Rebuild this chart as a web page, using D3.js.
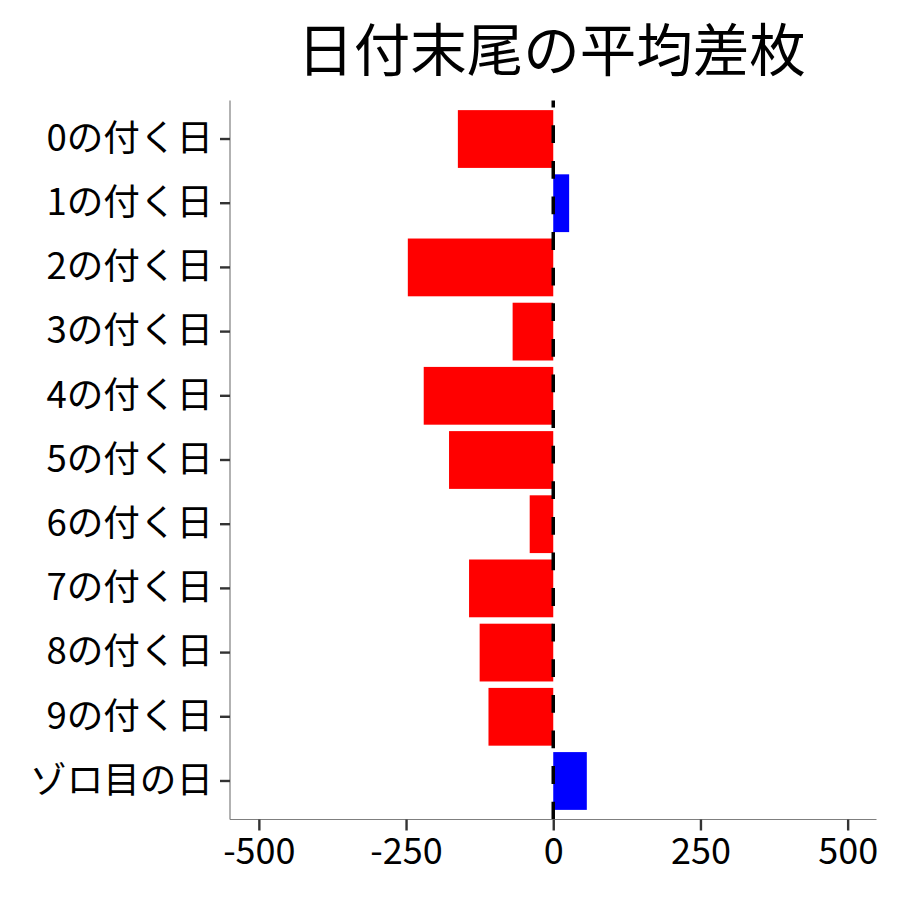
<!DOCTYPE html>
<html>
<head>
<meta charset="utf-8">
<script src="https://cdn.jsdelivr.net/npm/d3@7"></script>
<style>
  body { margin: 0; background: #fff; }
  svg { display: block; font-family: "Noto Sans CJK JP", "Noto Sans", sans-serif; }
</style>
</head>
<body>
<div id="chart"></div>
<script>
const categories = ["0の付く日","1の付く日","2の付く日","3の付く日","4の付く日","5の付く日","6の付く日","7の付く日","8の付く日","9の付く日","ゾロ目の日"];
const values = [-162, 27, -247, -69, -220, -177, -40, -143, -125, -110, 57];
const xTicks = [-500, -250, 0, 250, 500];
const title = "日付末尾の平均差枚";

const W = 900, H = 900;
const panel = { left: 230, right: 876.5, top: 100.5, bottom: 819.5 };

const svg = d3.select("#chart").append("svg").attr("width", W).attr("height", H);

const x = d3.scaleLinear().domain([-549, 549]).range([panel.left, panel.right]);
const y = d3.scaleBand().domain(categories).range([panel.top, panel.bottom]).paddingInner(0.1).paddingOuter(0.15);

// bars
svg.append("g").selectAll("rect").data(categories).join("rect")
  .attr("x", (d, i) => x(Math.min(0, values[i])))
  .attr("width", (d, i) => Math.abs(x(values[i]) - x(0)))
  .attr("y", d => y(d))
  .attr("height", y.bandwidth())
  .attr("fill", (d, i) => values[i] < 0 ? "#ff0000" : "#0000ff");

// dashed zero line (drawn from bottom up)
svg.append("line")
  .attr("x1", x(0)).attr("x2", x(0))
  .attr("y1", panel.bottom).attr("y2", panel.top)
  .attr("stroke", "#000").attr("stroke-width", 3.5)
  .attr("stroke-dasharray", "17.8,17.8");

// y axis
const yAxis = svg.append("g").attr("transform", `translate(${panel.left},0)`)
  .call(d3.axisLeft(y).tickSize(10).tickPadding(7));
yAxis.select(".domain").attr("stroke", "#7f7f7f").attr("stroke-width", 1.2);
yAxis.selectAll(".tick line").attr("stroke", "#333").attr("stroke-width", 2.4);
yAxis.selectAll(".tick text").attr("fill", "#000").style("font-size", "36.6px")
  .style("font-family", "'Noto Sans CJK JP', sans-serif");

// x axis
const xAxis = svg.append("g").attr("transform", `translate(0,${panel.bottom})`)
  .call(d3.axisBottom(x).tickValues(xTicks).tickFormat(d => String(d)).tickSize(11).tickPadding(8));
xAxis.select(".domain").attr("stroke", "#7f7f7f").attr("stroke-width", 1.2);
xAxis.selectAll(".tick line").attr("stroke", "#333").attr("stroke-width", 2.4);
xAxis.selectAll(".tick text").attr("fill", "#000").style("font-size", "36px")
  .style("font-family", "'Noto Sans CJK JP', sans-serif");
// remove domain end caps
yAxis.select(".domain").attr("d", `M0,${panel.top}V${panel.bottom}`);
xAxis.select(".domain").attr("d", `M${panel.left},0H${panel.right}`);

// title
svg.append("text")
  .attr("x", 551.5)
  .attr("y", 71)
  .attr("text-anchor", "middle")
  .style("font-size", "56.5px")
  .attr("fill", "#000")
  .text(title);
</script>
</body>
</html>
